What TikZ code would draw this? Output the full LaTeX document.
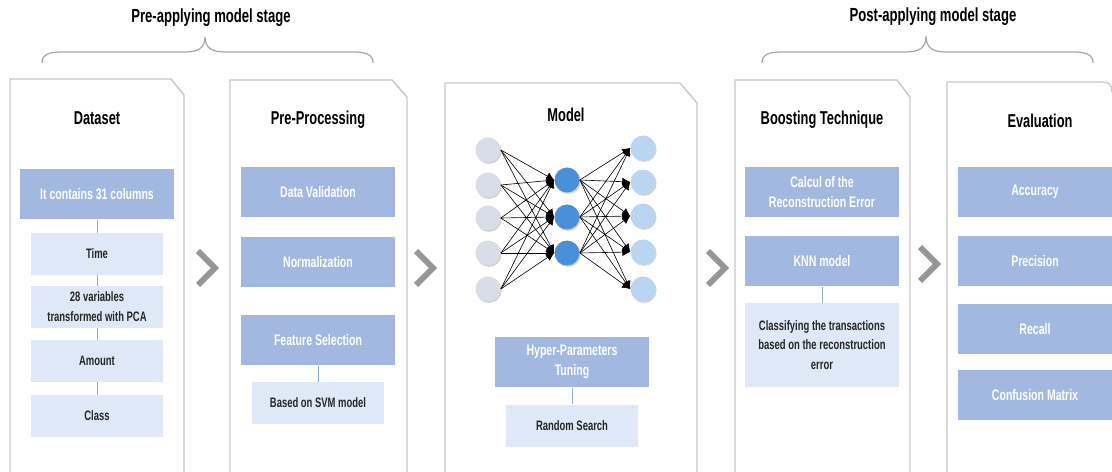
\documentclass[tikz,border=0pt]{standalone}
\usepackage{fontspec}
\setmainfont{Liberation Sans}[FakeStretch=0.69]
\usepackage{tikz}
\usetikzlibrary{arrows.meta,positioning,shadows}
\definecolor{darkbox}{RGB}{162,184,224}
\definecolor{lightbox}{RGB}{222,232,246}
\definecolor{linkline}{RGB}{140,172,212}
\definecolor{panelgray}{RGB}{200,200,200}
\definecolor{chevron}{RGB}{150,150,150}
\definecolor{inputnode}{RGB}{216,221,231}
\definecolor{hiddennode}{RGB}{74,144,217}
\definecolor{outputnode}{RGB}{186,213,240}

\begin{document}
\begin{tikzpicture}[x=0.02cm, y=-0.02cm,
  title/.style={font=\bfseries\fontsize{10.8}{12}\selectfont},
  header/.style={font=\bfseries\fontsize{10.6}{12}\selectfont},
  mainbox/.style={fill=darkbox, text=white, inner sep=0pt, minimum width=3.08cm,
                  minimum height=1.02cm, align=center, font=\bfseries\fontsize{8.7}{11.3}\selectfont},
  subbox/.style={fill=lightbox, text=black!85, inner sep=0pt, minimum width=2.64cm,
                 minimum height=0.84cm, align=center, font=\bfseries\fontsize{7.8}{11.3}\selectfont},
  link/.style={draw=linkline, line width=0.5pt},
  panel/.style={draw=panelgray, line width=0.8pt, fill=white},
  chev/.style={draw=chevron, line width=3.4pt},
  brace/.style={draw=black!35, line width=0.7pt},
  neuron/.style={circle, inner sep=0pt, minimum size=0.5cm,
                 drop shadow={shadow xshift=0.6pt, shadow yshift=-0.8pt, opacity=0.35}},
  netarrow/.style={-{Latex[length=4.5pt,width=4.5pt]}, line width=0.35pt},
]
\useasboundingbox (0,0) rectangle (1112,472);
\clip (0,0) rectangle (1112,472);

% stages
\node[title] (prestage) at (211,18) {Pre-applying model stage};
\node[title] (poststage) at (933,17) {Post-applying model stage};
\draw[brace] (42,63) .. controls (42,54) and (50,52) .. (62,52) -- (185,52)
  .. controls (198,52) and (205,48) .. (205,37) .. controls (205,48) and (212,52) .. (225,52)
  -- (353,52) .. controls (365,52) and (373,54) .. (373,63);
\draw[brace] (762,63) .. controls (762,54) and (770,52) .. (782,52) -- (906,52)
  .. controls (919,52) and (926,48) .. (926,36) .. controls (926,48) and (933,52) .. (946,52)
  -- (1073,52) .. controls (1085,52) and (1093,54) .. (1093,63);

% panels
\draw[panel] (10,475) -- (10,79) -- (171,79) -- (184,95) -- (184,475);
\draw[panel] (230,475) -- (230,80) -- (392,80) -- (407,97) -- (407,475);
\draw[panel] (445,475) -- (445,83) -- (680,83) -- (697,103) -- (697,475);
\draw[panel] (735,475) -- (735,80) -- (897,80) -- (910,97) -- (910,475);
\draw[panel] (947,475) -- (947,82) -- (1103,82) .. controls (1109,82) and (1112,85) .. (1112,92);

% chevrons
\foreach \x/\y in {198/268, 416/268, 708/268, 920/264}
  \draw[chev] (\x,\y-17) -- ({\x+17},\y) -- (\x,\y+17);

% Dataset
\node[header] (dataset) at (97,118) {Dataset};
\node[mainbox] (columns) at (97,194) {It contains 31 columns};
\foreach \i/\y/\name in {1/254/Time, 2/307/{28 variables\\transformed with PCA},
                         3/361/Amount, 4/416/Class} {
  \node[subbox] (col\i) at (97,\y) {\name};
}
\foreach \a/\b in {columns/col1, col1/col2, col2/col3, col3/col4}
  \draw[link] (\a) -- (\b);

% Pre-Processing
\node[header] (preproc) at (318,120) {Pre-Processing};
\foreach \i/\y/\name in {1/192/Data Validation, 2/262/Normalization, 3/340/Feature Selection} {
  \node[mainbox] (prep\i) at (318,\y) {\name};
}
\node[subbox, minimum width=2.66cm] (svm) at (318,403) {Based on SVM model};
\draw[link] (prep3) -- (svm);

% Model
\node[header] (model) at (566,115) {Model};
\foreach \i/\y in {1/150, 2/185, 3/218, 4/253, 5/289}
  \node[neuron, fill=inputnode] (in\i) at (488,\y) {};
\foreach \i/\y in {1/180, 2/217, 3/253}
  \node[neuron, fill=hiddennode] (hid\i) at (567,\y) {};
\foreach \i/\y in {1/148, 2/182, 3/216, 4/252, 5/289}
  \node[neuron, fill=outputnode] (out\i) at (643,\y) {};
\foreach \i in {1,...,5} {
  \foreach \j in {1,2,3} {
    \draw[netarrow] (in\i.east) -- (hid\j.west);
    \draw[netarrow] (hid\j.east) -- (out\i.west);
  }
}
\node[mainbox] (tuning) at (572,362) {Hyper-Parameters\\Tuning};
\node[subbox, minimum width=2.66cm, minimum height=0.86cm] (search) at (572,426) {Random Search};
\draw[link] (tuning) -- (search);

% Boosting Technique
\node[header] (boost) at (822,120) {Boosting Technique};
\node[mainbox] (recon) at (822,192) {Calcul of the\\Reconstruction Error};
\node[mainbox] (knn) at (822,261) {KNN model};
\node[subbox, minimum width=3.1cm, minimum height=1.68cm] (classify) at (822,345)
  {Classifying the transactions\\based on the reconstruction\\error};
\draw[link] (knn) -- (classify);

% Evaluation
\node[header] (eval) at (1040,121) {Evaluation};
\foreach \i/\y/\name in {1/192/Accuracy, 2/261/Precision, 3/329/Recall, 4/395/Confusion Matrix} {
  \node[mainbox] (metric\i) at (1035,\y) {\name};
}
\end{tikzpicture}
\end{document}
